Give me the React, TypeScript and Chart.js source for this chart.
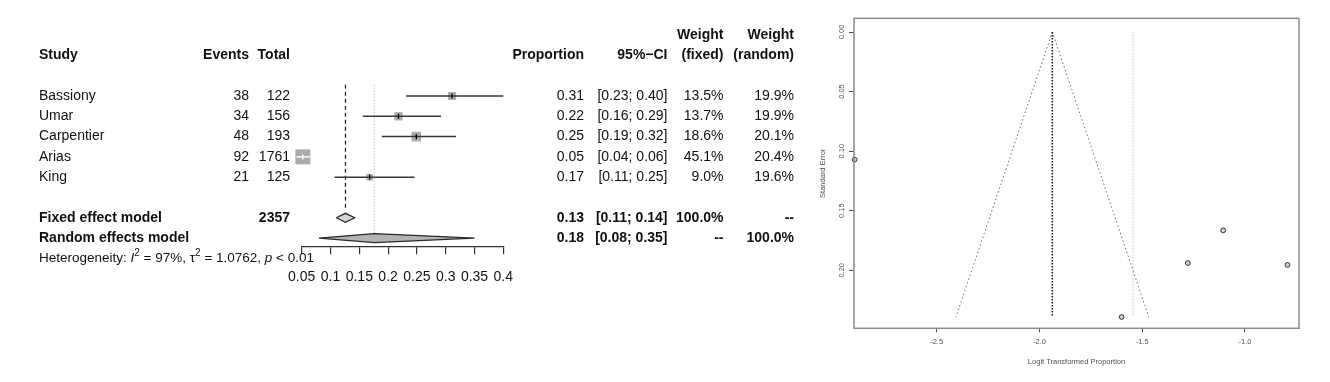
import React, { useEffect, useRef } from 'react';
import { Chart, registerables } from 'chart.js';

Chart.register(...registerables);

// ---------- Forest plot data ----------
const studies = ['Bassiony', 'Umar', 'Carpentier', 'Arias', 'King'];
const events = [38, 34, 48, 92, 21];
const totals = [122, 156, 193, 1761, 125];
const proportions = [0.311, 0.218, 0.249, 0.052, 0.168];
const ciLower = [0.231, 0.156, 0.189, 0.041, 0.107];
const ciUpper = [0.4, 0.292, 0.318, 0.064, 0.246];
const weightFixed = [13.5, 13.7, 18.6, 45.1, 9.0];
const weightRandom = [19.9, 19.9, 20.1, 20.4, 19.6];

const modelLabels = ['Fixed effect model', 'Random effects model'];
const modelEstimates = [0.126, 0.176];
const modelLower = [0.11, 0.08];
const modelUpper = [0.142, 0.35];
const modelWeightFixed = ['100.0%', '--'];
const modelWeightRandom = ['--', '100.0%'];

const hetI2 = '97%';
const hetTau2 = '1.0762';
const hetP = '< 0.01';

const forestTicks = [0.05, 0.1, 0.15, 0.2, 0.25, 0.3, 0.35, 0.4];
const forestTickLabels = ['0.05', '0.1', '0.15', '0.2', '0.25', '0.3', '0.35', '0.4'];

// ---------- Funnel plot data ----------
const funnelLogit = [-0.793, -1.278, -1.106, -2.899, -1.6];
const funnelSE = [0.1955, 0.1939, 0.1665, 0.1071, 0.2392];
const fixedLogit = -1.937;
const randomLogit = -1.544;
const funnelLeftX = [-1.937, -2.406];
const funnelRightX = [-1.937, -1.468];
const funnelSEBounds = [0, 0.2392];
const funnelXTicks = [-2.5, -2.0, -1.5, -1.0];
const funnelXTickLabels = ['-2.5', '-2.0', '-1.5', '-1.0'];
const funnelYTicks = [0, 0.05, 0.1, 0.15, 0.2];
const funnelYTickLabels = ['0.00', '0.05', '0.10', '0.15', '0.20'];

const FONT = '"Liberation Sans", Arial, Helvetica, sans-serif';

// square side in px from fixed weight (area proportional to weight)
const squareSide = (w: number) => 2.23 * Math.sqrt(w);

const ciInside = (chart: any, i: number) => {
  const xs = chart.scales && chart.scales.x;
  if (!xs) return false;
  const w = xs.getPixelForValue(ciUpper[i]) - xs.getPixelForValue(ciLower[i]);
  return w < squareSide(weightFixed[i]);
};

const studyRows = studies.map((_, i) => i + 1);
const modelRows = [7, 8];
const hetRow = 9;

const forestTextPlugin = {
  id: 'forestText',
  afterDraw(chart: any) {
    const ctx = chart.ctx as CanvasRenderingContext2D;
    const ys = chart.scales.y;
    const Y = (r: number) => ys.getPixelForValue(r);
    const reg = `14px ${FONT}`;
    const bold = `bold 14px ${FONT}`;
    const col = { study: 39, events: 249, total: 290, prop: 584, ci: 667.5, wf: 723.5, wr: 794 };
    ctx.save();
    ctx.fillStyle = '#111111';
    ctx.textBaseline = 'middle';
    const put = (t: string, x: number, r: number, align: CanvasTextAlign, font: string) => {
      ctx.font = font;
      ctx.textAlign = align;
      ctx.fillText(t, x, Y(r));
    };
    // headers
    put('Weight', col.wf, -2, 'right', bold);
    put('Weight', col.wr, -2, 'right', bold);
    put('Study', col.study, -1, 'left', bold);
    put('Events', col.events, -1, 'right', bold);
    put('Total', col.total, -1, 'right', bold);
    put('Proportion', col.prop, -1, 'right', bold);
    put('95%\u2212CI', col.ci, -1, 'right', bold);
    put('(fixed)', col.wf, -1, 'right', bold);
    put('(random)', col.wr, -1, 'right', bold);
    // studies
    studies.forEach((s, i) => {
      const r = studyRows[i];
      put(s, col.study, r, 'left', reg);
      put(String(events[i]), col.events, r, 'right', reg);
      put(String(totals[i]), col.total, r, 'right', reg);
      put(proportions[i].toFixed(2), col.prop, r, 'right', reg);
      put(`[${ciLower[i].toFixed(2)}; ${ciUpper[i].toFixed(2)}]`, col.ci, r, 'right', reg);
      put(`${weightFixed[i].toFixed(1)}%`, col.wf, r, 'right', reg);
      put(`${weightRandom[i].toFixed(1)}%`, col.wr, r, 'right', reg);
    });
    // models
    modelLabels.forEach((m, k) => {
      const r = modelRows[k];
      put(m, col.study, r, 'left', bold);
      if (k === 0) put(String(totals.reduce((a, b) => a + b, 0)), col.total, r, 'right', bold);
      put(modelEstimates[k].toFixed(2), col.prop, r, 'right', bold);
      put(`[${modelLower[k].toFixed(2)}; ${modelUpper[k].toFixed(2)}]`, col.ci, r, 'right', bold);
      put(modelWeightFixed[k], col.wf, r, 'right', bold);
      put(modelWeightRandom[k], col.wr, r, 'right', bold);
    });
    // heterogeneity
    const parts: { t: string; s: string }[] = [
      { t: 'Heterogeneity: ', s: 'n' },
      { t: 'I', s: 'i' },
      { t: '2', s: 'sup' },
      { t: ` = ${hetI2}, `, s: 'n' },
      { t: '\u03c4', s: 'n' },
      { t: '2', s: 'sup' },
      { t: ` = ${hetTau2}, `, s: 'n' },
      { t: 'p', s: 'i' },
      { t: ` ${hetP}`, s: 'n' },
    ];
    let x = col.study;
    const y = Y(hetRow);
    ctx.textAlign = 'left';
    parts.forEach((p) => {
      let dy = 0;
      if (p.s === 'n') ctx.font = `13.5px ${FONT}`;
      else if (p.s === 'i') ctx.font = `italic 13.5px ${FONT}`;
      else {
        ctx.font = `10px ${FONT}`;
        dy = -5;
      }
      ctx.fillText(p.t, x, y + dy);
      x += ctx.measureText(p.t).width;
    });
    ctx.restore();
  },
};

const frameBoxPlugin = {
  id: 'frameBox',
  afterDraw(chart: any) {
    const { left, top, right, bottom } = chart.chartArea;
    const ctx = chart.ctx as CanvasRenderingContext2D;
    ctx.save();
    ctx.strokeStyle = '#8c8c8c';
    ctx.lineWidth = 1.5;
    ctx.strokeRect(left, top, right - left, bottom - top);
    ctx.restore();
  },
};

function forestConfig(): any {
  const pts = studyRows.map((r, i) => ({ x: proportions[i], y: r }));
  const datasets: any[] = [
    {
      type: 'line',
      data: [
        { x: modelEstimates[0], y: 0.45 },
        { x: modelEstimates[0], y: 6.65 },
      ],
      borderColor: '#222',
      borderWidth: 1.3,
      borderDash: [4, 3],
      pointRadius: 0,
      order: 6,
      clip: false,
    },
    {
      type: 'line',
      data: [
        { x: modelEstimates[1], y: 0.45 },
        { x: modelEstimates[1], y: 7.8 },
      ],
      borderColor: '#a8a8a8',
      borderWidth: 1,
      borderDash: [1, 2],
      pointRadius: 0,
      order: 6,
      clip: false,
    },
    {
      type: 'scatter',
      data: pts,
      pointStyle: 'rect',
      pointRadius: weightFixed.map((w) => squareSide(w) / Math.SQRT2),
      pointBackgroundColor: '#ababab',
      pointBorderColor: '#ababab',
      pointBorderWidth: 0,
      order: 4,
      clip: false,
    },
    ...studies.map((_, i) => ({
      type: 'line',
      data: [
        { x: ciLower[i], y: studyRows[i] },
        { x: ciUpper[i], y: studyRows[i] },
      ],
      borderColor: (ctx: any) => (ciInside(ctx.chart, i) ? '#ffffff' : '#383838'),
      borderWidth: 1.5,
      pointRadius: 0,
      order: 2,
      clip: false,
    })),
    {
      type: 'scatter',
      data: pts,
      pointStyle: 'line',
      pointRotation: 90,
      pointRadius: 2.6,
      pointBorderColor: (ctx: any) => (ciInside(ctx.chart, ctx.dataIndex) ? '#ffffff' : '#000000'),
      pointBorderWidth: 1.3,
      order: 1,
      clip: false,
    },
    ...modelRows.map((r, k) => ({
      type: 'line',
      data: [
        { x: modelLower[k], y: r },
        { x: modelEstimates[k], y: r - 0.22 },
        { x: modelUpper[k], y: r },
        { x: modelEstimates[k], y: r + 0.22 },
        { x: modelLower[k], y: r },
      ],
      fill: 'shape',
      backgroundColor: k === 0 ? '#d6d6d6' : '#b3b3b3',
      borderColor: '#2a2a2a',
      borderWidth: 1.3,
      pointRadius: 0,
      order: 3,
      clip: false,
    })),
  ];
  return {
    type: 'scatter',
    data: { datasets },
    options: {
      animation: false,
      responsive: false,
      devicePixelRatio: 1,
      events: [],
      layout: { padding: { left: 301.7, right: 296.7, top: 14.8, bottom: 0 } },
      plugins: { legend: { display: false }, tooltip: { enabled: false } },
      scales: {
        x: {
          type: 'linear',
          min: forestTicks[0],
          max: forestTicks[forestTicks.length - 1],
          afterBuildTicks: (s: any) => {
            s.ticks = forestTicks.map((v) => ({ value: v }));
          },
          afterFit: (s: any) => {
            s.height = 135.8;
          },
          ticks: {
            callback: (_v: any, i: number) => forestTickLabels[i],
            font: { family: FONT, size: 14 },
            color: '#111111',
            padding: 15,
            maxRotation: 0,
            minRotation: 0,
            autoSkip: false,
          },
          grid: { drawOnChartArea: false, drawTicks: true, tickLength: 8, color: '#333', lineWidth: 1.2 },
          border: { display: true, color: '#333', width: 1.2 },
        },
        y: { type: 'linear', min: -3, max: 8.4, reverse: true, display: false },
      },
    },
    plugins: [forestTextPlugin],
  };
}

function funnelConfig(): any {
  const datasets: any[] = [
    {
      type: 'line',
      data: funnelSEBounds.map((s, i) => ({ x: funnelLeftX[i], y: s })),
      borderColor: '#6a6a6a',
      borderWidth: 1,
      borderDash: [1.5, 2.5],
      pointRadius: 0,
      order: 3,
    },
    {
      type: 'line',
      data: funnelSEBounds.map((s, i) => ({ x: funnelRightX[i], y: s })),
      borderColor: '#6a6a6a',
      borderWidth: 1,
      borderDash: [1.5, 2.5],
      pointRadius: 0,
      order: 3,
    },
    {
      type: 'line',
      data: funnelSEBounds.map((s) => ({ x: fixedLogit, y: s })),
      borderColor: '#111',
      borderWidth: 1.5,
      borderDash: [1.5, 1.5],
      pointRadius: 0,
      order: 2,
    },
    {
      type: 'line',
      data: funnelSEBounds.map((s) => ({ x: randomLogit, y: s })),
      borderColor: '#cfcfcf',
      borderWidth: 1.2,
      borderDash: [1.5, 1.5],
      pointRadius: 0,
      order: 4,
    },
    {
      type: 'scatter',
      data: funnelLogit.map((x, i) => ({ x, y: funnelSE[i] })),
      pointStyle: 'circle',
      pointRadius: 2.4,
      pointBackgroundColor: '#d0d0d0',
      pointBorderColor: '#333',
      pointBorderWidth: 1,
      order: 1,
      clip: false,
    },
  ];
  const tickFont = { family: FONT, size: 7.5 };
  return {
    type: 'scatter',
    data: { datasets },
    options: {
      animation: false,
      responsive: false,
      devicePixelRatio: 1,
      events: [],
      layout: { padding: { left: 0, right: 31, top: 18.3, bottom: 0 } },
      plugins: { legend: { display: false }, tooltip: { enabled: false } },
      scales: {
        x: {
          type: 'linear',
          position: 'bottom',
          min: -2.902,
          max: -0.737,
          afterBuildTicks: (s: any) => {
            s.ticks = funnelXTicks.map((v) => ({ value: v }));
          },
          afterFit: (s: any) => {
            s.height = 53.7;
          },
          ticks: {
            callback: (_v: any, i: number) => funnelXTickLabels[i],
            font: tickFont,
            color: '#505050',
            padding: 5.5,
            maxRotation: 0,
            minRotation: 0,
            autoSkip: false,
          },
          grid: { drawOnChartArea: false, drawTicks: true, tickLength: 4, color: '#505050', lineWidth: 1 },
          border: { display: false },
          title: {
            display: true,
            text: 'Logit Transformed Proportion',
            font: tickFont,
            color: '#505050',
            padding: { top: 0, bottom: 15.8 },
          },
        },
        y: {
          type: 'linear',
          position: 'left',
          reverse: true,
          min: -0.0115,
          max: 0.2487,
          afterBuildTicks: (s: any) => {
            s.ticks = funnelYTicks.map((v) => ({ value: v }));
          },
          afterFit: (s: any) => {
            s.width = 54;
          },
          ticks: {
            callback: (_v: any, i: number) => funnelYTickLabels[i],
            font: tickFont,
            color: '#505050',
            padding: 0.2,
            minRotation: 90,
            maxRotation: 90,
            crossAlign: 'center',
            autoSkip: false,
          },
          grid: { drawOnChartArea: false, drawTicks: true, tickLength: 5, color: '#505050', lineWidth: 1 },
          border: { display: false },
          title: {
            display: true,
            text: 'Standard Error',
            font: tickFont,
            color: '#505050',
            padding: { top: 18.5, bottom: 0 },
          },
        },
      },
    },
    plugins: [frameBoxPlugin],
  };
}

export default function App() {
  const forestRef = useRef<HTMLCanvasElement>(null);
  const funnelRef = useRef<HTMLCanvasElement>(null);

  useEffect(() => {
    const c1 = new Chart(forestRef.current as HTMLCanvasElement, forestConfig());
    const c2 = new Chart(funnelRef.current as HTMLCanvasElement, funnelConfig());
    return () => {
      c1.destroy();
      c2.destroy();
    };
  }, []);

  return (
    <div
      style={{
        position: 'absolute',
        left: 0,
        top: 0,
        width: 1330,
        height: 382,
        background: '#ffffff',
        overflow: 'hidden',
      }}
    >
      <canvas
        ref={forestRef}
        width={800}
        height={382}
        style={{ position: 'absolute', left: 0, top: 0, width: 800, height: 382 }}
      />
      <canvas
        ref={funnelRef}
        width={530}
        height={382}
        style={{ position: 'absolute', left: 800, top: 0, width: 530, height: 382 }}
      />
    </div>
  );
}
